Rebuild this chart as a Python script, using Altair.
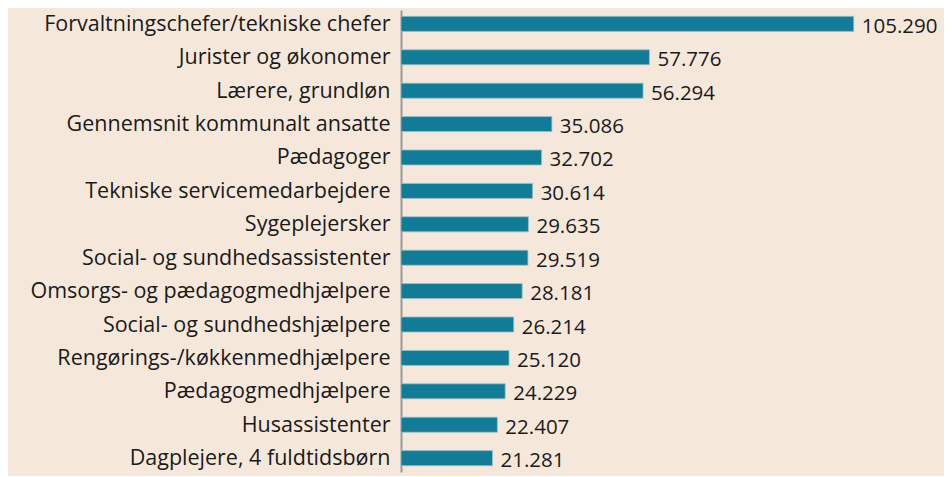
import altair as alt
import pandas as pd

categories = [
    "Forvaltningschefer/tekniske chefer",
    "Jurister og økonomer",
    "Lærere, grundløn",
    "Gennemsnit kommunalt ansatte",
    "Pædagoger",
    "Tekniske servicemedarbejdere",
    "Sygeplejersker",
    "Social- og sundhedsassistenter",
    "Omsorgs- og pædagogmedhjælpere",
    "Social- og sundhedshjælpere",
    "Rengørings-/køkkenmedhjælpere",
    "Pædagogmedhjælpere",
    "Husassistenter",
    "Dagplejere, 4 fuldtidsbørn",
]
values = [105290, 57776, 56294, 35086, 32702, 30614, 29635, 29519, 28181, 26214, 25120, 24229, 22407, 21281]
labels = ["105.290", "57.776", "56.294", "35.086", "32.702", "30.614", "29.635", "29.519",
          "28.181", "26.214", "25.120", "24.229", "22.407", "21.281"]

df = pd.DataFrame({"cat": categories, "val": values, "lab": labels})

BG = "#f5e8da"
BAR = "#107c98"
FONT = "Open Sans"

y = alt.Y("cat:N", sort=categories, title=None,
          scale=alt.Scale(paddingInner=0.55, paddingOuter=0.19),
          axis=alt.Axis(ticks=False, domain=True, domainColor="#9a9a9a", domainWidth=2,
                        labelFont=FONT, labelFontSize=21.5, labelColor="#1a1a1a",
                        labelPadding=11, labelLimit=420, labelOffset=1))
x = alt.X("val:Q", title=None, scale=alt.Scale(domain=[0, 120000]), axis=None)

bars = alt.Chart(df).mark_bar(color=BAR, stroke="#9fbfc4", strokeWidth=0.8).encode(x=x, y=y)
text = alt.Chart(df).mark_text(align="left", baseline="middle", dx=8, dy=3,
                               font=FONT, fontSize=20.5, color="#1a1a1a").encode(
    x=x, y=alt.Y("cat:N", sort=categories), text="lab:N")

chart = (bars + text).properties(
    width=516, height=462,
    background=BG,
    padding={"left": 393, "top": 2, "right": 27, "bottom": 4},
    autosize=alt.AutoSizeParams(type="none"),
).configure_view(stroke=None)

chart.save("out.html", embed_options={"renderer": "svg", "actions": False})
